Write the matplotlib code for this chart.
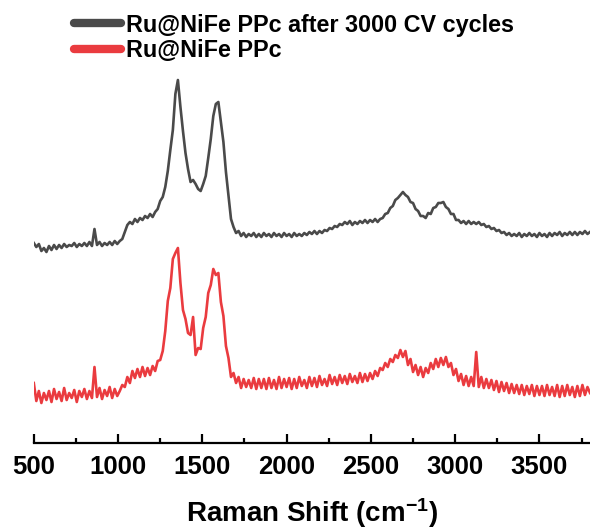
import numpy as np
import matplotlib as mpl
mpl.use('Agg')
import matplotlib.pyplot as plt

plt.rcParams['font.family'] = ['Liberation Sans', 'DejaVu Sans']
plt.rcParams['font.weight'] = 'bold'
plt.rcParams['mathtext.fontset'] = 'custom'
plt.rcParams['mathtext.rm'] = 'Liberation Sans:bold'
plt.rcParams['mathtext.bf'] = 'Liberation Sans:bold'
plt.rcParams['mathtext.default'] = 'bf'

GRAY = '#4a4a4a'
RED = '#ea3b3f'

# Raman shift grid, 500-3800 cm-1 every 15 cm-1
shift = np.arange(500, 3801, 15)

# after 3000 CV cycles (offset trace)
cycled = [
    200, 196, 199, 192, 195, 191, 197, 193, 198, 194,
    198, 195, 199, 196, 198, 197, 200, 196, 199, 197,
    200, 197, 201, 197, 214, 198, 201, 197, 200, 198,
    201, 198, 202, 199, 202, 204, 211, 218, 221, 219,
    224, 221, 225, 223, 227, 225, 229, 226, 231, 234,
    242, 246, 256, 272, 293, 313, 349, 363, 336, 312,
    290, 274, 261, 263, 259, 254, 252, 259, 267, 285,
    304, 327, 339, 341, 321, 301, 271, 247, 224, 216,
    210, 212, 207, 210, 206, 209, 207, 210, 206, 209,
    206, 210, 207, 209, 206, 210, 207, 209, 206, 210,
    207, 209, 206, 210, 207, 209, 207, 210, 208, 211,
    209, 212, 209, 212, 210, 213, 212, 215, 214, 217,
    216, 219, 218, 221, 219, 222, 218, 221, 219, 222,
    220, 223, 220, 223, 221, 224, 221, 224, 225, 229,
    230, 235, 237, 243, 245, 248, 251, 248, 246, 241,
    240, 234, 232, 227, 227, 225, 230, 229, 235, 236,
    240, 240, 241, 236, 234, 229, 229, 223, 223, 220,
    222, 219, 222, 219, 221, 219, 221, 218, 219, 216,
    217, 214, 215, 212, 213, 210, 211, 208, 210, 207,
    209, 207, 210, 206, 209, 207, 210, 207, 209, 206,
    210, 207, 209, 206, 210, 207, 210, 208, 211, 207,
    210, 208, 211, 208, 211, 208, 211, 209, 212, 209,
    211,
]

# as prepared
fresh = [
    60, 42, 52, 40, 50, 43, 52, 41, 54, 44,
    51, 42, 55, 43, 50, 45, 53, 41, 52, 46,
    54, 44, 52, 45, 76, 46, 55, 44, 53, 47,
    56, 45, 54, 47, 52, 58, 56, 66, 60, 72,
    65, 74, 66, 76, 67, 75, 68, 77, 72, 82,
    83, 92, 112, 142, 155, 184, 190, 195, 160, 133,
    124, 110, 108, 126, 88, 95, 94, 115, 126, 150,
    158, 174, 168, 170, 141, 127, 97, 85, 66, 70,
    60, 66, 55, 64, 56, 63, 55, 65, 54, 64,
    55, 64, 54, 65, 55, 63, 54, 66, 55, 64,
    56, 65, 54, 64, 55, 66, 57, 63, 55, 66,
    57, 65, 56, 67, 58, 64, 57, 68, 59, 66,
    58, 68, 60, 67, 59, 69, 61, 67, 60, 70,
    61, 69, 62, 70, 64, 72, 67, 75, 73, 80,
    76, 84, 81, 88, 85, 93, 86, 92, 78, 84,
    71, 78, 68, 76, 66, 75, 70, 80, 74, 84,
    76, 85, 78, 86, 76, 80, 68, 74, 62, 69,
    58, 67, 57, 66, 57, 91, 56, 66, 55, 64,
    55, 63, 53, 62, 51, 61, 52, 60, 50, 59,
    50, 58, 49, 58, 48, 57, 49, 58, 47, 57,
    48, 57, 47, 58, 48, 56, 47, 58, 46, 57,
    47, 58, 48, 56, 46, 57, 47, 58, 48, 56,
    50,
]

labels = ['Ru@NiFe PPc after 3000 CV cycles', 'Ru@NiFe PPc']
xticks = [500, 1000, 1500, 2000, 2500, 3000, 3500]

fig = plt.figure(figsize=(5.9, 5.3), dpi=100)
ax = fig.add_axes([33.8 / 590, 87 / 530, 1 - 33.8 / 590, 443 / 530])

l1, = ax.plot(shift, cycled, color=GRAY, lw=1.9)
l2, = ax.plot(shift, fresh, color=RED, lw=1.9)

ax.set_xlim(500, 3800)
ax.set_ylim(0, 443)

for s in ['left', 'right', 'top']:
    ax.spines[s].set_visible(False)
ax.spines['bottom'].set_linewidth(1.6)
ax.set_yticks([])
ax.set_xticks(xticks)
ax.set_xticks(np.arange(750, 3800, 500), minor=True)
ax.tick_params(axis='x', which='major', direction='in', length=6.5, width=1.6,
               labelsize=18.5, pad=9)
ax.tick_params(axis='x', which='minor', direction='in', length=3.5, width=1.6)
for t in ax.get_xticklabels():
    t.set_fontweight('bold')
ax.set_xlabel('Raman Shift (cm$^{-1}$)', fontsize=20, fontweight='bold', labelpad=12)

leg = ax.legend([l1, l2], labels, loc='upper left', bbox_to_anchor=(0.059, 0.985),
                frameon=False, fontsize=16.8, handlelength=2.05, handletextpad=0.2,
                labelspacing=0.09, borderaxespad=0.2, borderpad=0.1)
for h in leg.get_lines():
    h.set_linewidth(6)
    h.set_solid_capstyle('round')
for t in leg.get_texts():
    t.set_fontweight('bold')

fig.savefig('out.png', dpi=100)
